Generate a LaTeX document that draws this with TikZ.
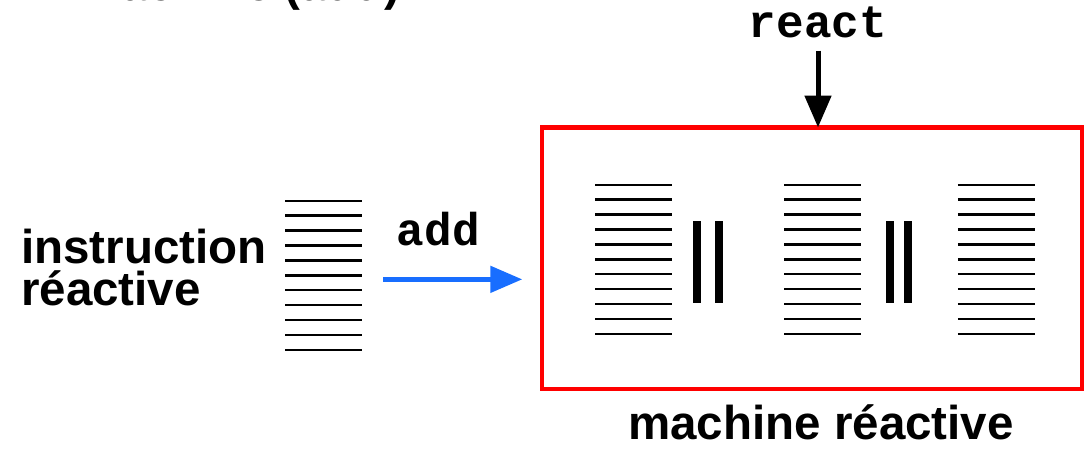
\documentclass[tikz,border=0pt]{standalone}
\usepackage{fontspec}
\setmainfont{Liberation Sans}
\newfontfamily\codefont{Liberation Mono}
\usetikzlibrary{arrows.meta,calc}
\definecolor{frame}{RGB}{255,0,0}
\definecolor{flow}{RGB}{24,110,255}

\begin{document}
\begin{tikzpicture}[x=1pt,y=-1pt,
  rule/.style={line width=2.3pt},
  stackbox/.style={minimum width=77pt, minimum height=149.3pt, inner sep=0pt, outer sep=0pt},
  parbar/.style={fill=black, minimum width=8pt, minimum height=82.6pt, inner sep=0pt, outer sep=0pt},
  label/.style={font=\fontsize{47.5}{42}\selectfont\bfseries, inner sep=0pt},
  code/.style={font=\codefont\fontsize{46}{46}\selectfont\bfseries, inner sep=0pt},
  tip/.style={-{Triangle[width=26pt,length=32pt]}, line width=5pt},
]
\useasboundingbox (0,0) rectangle (1084,448);
\clip (0,0) rectangle (1084,448);

% heading, cut by the top edge
\node[label, anchor=base east] (heading) at (401,0) {machine (add)};

% the machine frame
\node[draw=frame, line width=4.5pt, minimum width=540pt, minimum height=261.5pt,
      inner sep=0pt, outer sep=0pt] (machine) at (812,258.25) {};

% instruction stacks
\node[stackbox] (instr) at (323.8,275.35) {};
\node[stackbox] (m1) at (633.5,259.35) {};
\node[stackbox] (m2) at (822.7,259.35) {};
\node[stackbox] (m3) at (996.3,259.35) {};
\foreach \s in {instr,m1,m2,m3}
  \foreach \k in {0,...,10}
    \draw[rule] ($(\s.north west)+(0,\k*14.93)$) -- ($(\s.north east)+(0,\k*14.93)$);

% parallel composition bars
\node[parbar] (p1a) at (697.3,262) {};
\node[parbar] (p1b) at (718.7,262) {};
\node[parbar] (p2a) at (889.7,262) {};
\node[parbar] (p2b) at (908.3,262) {};

% labels (a two-line node sits on the baseline of its last line)
\node[label, align=left, anchor=base west] (instrlabel) at (21,305.3) {instruction\\réactive};
\node[label, anchor=base] (machlabel) at (821,439) {machine réactive};
\node[code, anchor=base] (addlabel) at (438.3,245) {add};
\node[code, anchor=base] (react) at (818,37) {react};

% arrows
\coordinate (addend) at (522.3,279.35);
\draw[tip, draw=flow] ([xshift=21pt,yshift=-4pt]instr.east) -- (addend);
\draw[tip] ([yshift=-13pt]react.south) -- (react.south |- machine.north);
\end{tikzpicture}
\end{document}
